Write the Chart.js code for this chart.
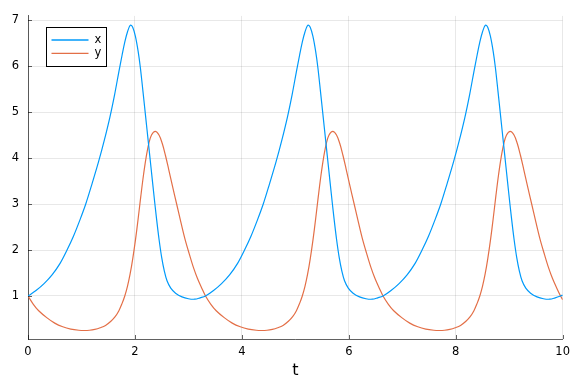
<!DOCTYPE html>
<html><head><meta charset="utf-8">
<script src="https://cdn.jsdelivr.net/npm/chart.js@4/dist/chart.umd.min.js"></script>
<style>html,body{margin:0;padding:0;background:#fff}#wrap{width:576px;height:384px}</style>
</head><body><div id="wrap"><canvas id="c" width="576" height="384"></canvas></div>
<script>
const seriesNames = ['x', 'y'];
const seriesColors = ['#009AFA', '#E36F47'];
const axisTitle = 't';
const xTicks = [0, 2, 4, 6, 8, 10];
const yTicks = [1, 2, 3, 4, 5, 6, 7];

const tX = [0.00,0.15,0.30,0.45,0.60,0.73,0.85,0.97,1.08,1.20,1.32,1.43,1.53,1.62,1.70,1.76,1.81,1.86,1.915,1.96,2.01,2.06,2.10,2.15,2.20,2.25,2.30,2.35,2.40,2.45,2.50,2.55,2.60,2.67,2.76,2.88,3.00,3.12,3.22,
  3.32,3.47,3.62,3.77,3.92,4.05,4.17,4.29,4.40,4.52,4.64,4.75,4.85,4.94,5.02,5.08,5.13,5.18,5.235,5.28,5.33,5.38,5.42,5.47,5.52,5.57,5.62,5.67,5.72,5.77,5.82,5.87,5.92,5.99,6.08,6.20,6.32,6.44,6.54,
  6.64,6.79,6.94,7.09,7.24,7.37,7.49,7.61,7.72,7.84,7.96,8.07,8.17,8.26,8.34,8.40,8.45,8.50,8.555,8.60,8.65,8.70,8.74,8.79,8.84,8.89,8.94,8.99,9.04,9.09,9.14,9.19,9.24,9.31,9.40,9.52,9.64,9.76,9.86,
  9.96,10.00];
const xVals = [1.00,1.12,1.27,1.46,1.71,2.00,2.30,2.65,3.00,3.45,3.92,4.40,4.88,5.38,5.88,6.24,6.52,6.74,6.89,6.84,6.64,6.32,5.98,5.45,4.90,4.35,3.80,3.25,2.72,2.24,1.84,1.54,1.33,1.17,1.06,0.98,0.94,0.93,0.96,
  1.00,1.12,1.27,1.46,1.71,2.00,2.30,2.65,3.00,3.45,3.92,4.40,4.88,5.38,5.88,6.24,6.52,6.74,6.89,6.84,6.64,6.32,5.98,5.45,4.90,4.35,3.80,3.25,2.72,2.24,1.84,1.54,1.33,1.17,1.06,0.98,0.94,0.93,0.96,
  1.00,1.12,1.27,1.46,1.71,2.00,2.30,2.65,3.00,3.45,3.92,4.40,4.88,5.38,5.88,6.24,6.52,6.74,6.89,6.84,6.64,6.32,5.98,5.45,4.90,4.35,3.80,3.25,2.72,2.24,1.84,1.54,1.33,1.17,1.06,0.98,0.94,0.93,0.96,
  1.00,1.02];

const tY = [0.00,0.10,0.20,0.35,0.50,0.65,0.80,0.95,1.05,1.15,1.25,1.35,1.45,1.55,1.63,1.70,1.76,1.81,1.86,1.91,1.96,2.01,2.06,2.11,2.16,2.21,2.26,2.31,2.38,2.45,2.51,2.57,2.63,2.70,2.78,2.86,2.94,3.02,3.10,3.17,3.25,
  3.32,3.42,3.52,3.67,3.82,3.97,4.12,4.27,4.37,4.47,4.57,4.67,4.77,4.87,4.95,5.02,5.08,5.13,5.18,5.23,5.28,5.33,5.38,5.43,5.48,5.53,5.58,5.63,5.70,5.77,5.83,5.89,5.95,6.02,6.10,6.18,6.26,6.34,6.42,6.49,6.57,
  6.64,6.74,6.84,6.99,7.14,7.29,7.44,7.59,7.69,7.79,7.89,7.99,8.09,8.19,8.27,8.34,8.40,8.45,8.50,8.55,8.60,8.65,8.70,8.75,8.80,8.85,8.90,8.95,9.02,9.09,9.15,9.21,9.27,9.34,9.42,9.50,9.58,9.66,9.74,9.81,9.89,
  9.96,10.00];
const yVals = [1.00,0.82,0.68,0.53,0.41,0.33,0.28,0.255,0.25,0.255,0.275,0.31,0.36,0.45,0.55,0.68,0.84,1.00,1.21,1.48,1.82,2.22,2.68,3.17,3.63,4.02,4.32,4.50,4.58,4.50,4.32,4.06,3.76,3.40,3.00,2.60,2.22,1.90,1.60,1.38,1.17,
  1.00,0.82,0.68,0.53,0.41,0.33,0.28,0.255,0.25,0.255,0.275,0.31,0.36,0.45,0.55,0.68,0.84,1.00,1.21,1.48,1.82,2.22,2.68,3.17,3.63,4.02,4.32,4.50,4.58,4.50,4.32,4.06,3.76,3.40,3.00,2.60,2.22,1.90,1.60,1.38,1.17,
  1.00,0.82,0.68,0.53,0.41,0.33,0.28,0.255,0.25,0.255,0.275,0.31,0.36,0.45,0.55,0.68,0.84,1.00,1.21,1.48,1.82,2.22,2.68,3.17,3.63,4.02,4.32,4.50,4.58,4.50,4.32,4.06,3.76,3.40,3.00,2.60,2.22,1.90,1.60,1.38,1.17,
  1.00,0.92];

const AXIS = 'rgba(0,0,0,0.62)';
const GRID = 'rgba(0,0,0,0.09)';
const FONT = 'DejaVu Sans';

const decor = {
  id: 'decor',
  afterDraw(chart) {
    const ctx = chart.ctx, a = chart.chartArea, xs = chart.scales.x, ys = chart.scales.y;
    ctx.save();
    ctx.strokeStyle = AXIS; ctx.lineWidth = 1;
    ctx.beginPath();
    xTicks.forEach(v => { const p = Math.round(xs.getPixelForValue(v)) + 0.5; ctx.moveTo(p, a.bottom); ctx.lineTo(p, a.bottom - 4); });
    yTicks.forEach(v => { const p = Math.round(ys.getPixelForValue(v)) + 0.5; ctx.moveTo(a.left, p); ctx.lineTo(a.left + 4, p); });
    ctx.stroke();
    const bx = Math.round(a.left + 18) + 0.5, by = Math.round(a.top + 11) + 0.5, bw = 60, bh = 39;
    ctx.fillStyle = '#fff';
    ctx.fillRect(bx, by, bw, bh);
    ctx.strokeStyle = '#000'; ctx.lineWidth = 1;
    ctx.strokeRect(bx, by, bw, bh);
    ctx.font = '11.5px "' + FONT + '"';
    ctx.textBaseline = 'middle'; ctx.textAlign = 'left';
    chart.data.datasets.forEach((ds, i) => {
      const yy = by + 12.5 + i * 13.3;
      ctx.strokeStyle = ds.borderColor; ctx.lineWidth = 1.3;
      ctx.beginPath(); ctx.moveTo(bx + 5, yy); ctx.lineTo(bx + 42, yy); ctx.stroke();
      ctx.fillStyle = '#000';
      ctx.fillText(ds.label, bx + 48, yy);
    });
    ctx.restore();
  }
};

new Chart(document.getElementById('c'), {
  type: 'line',
  data: {
    datasets: [
      { label: seriesNames[0], data: tX.map((t, i) => ({ x: t, y: xVals[i] })), borderColor: seriesColors[0], borderWidth: 1.2, pointRadius: 0, fill: false, tension: 0.35 },
      { label: seriesNames[1], data: tY.map((t, i) => ({ x: t, y: yVals[i] })), borderColor: seriesColors[1], borderWidth: 1.2, pointRadius: 0, fill: false, tension: 0.35 }
    ]
  },
  options: {
    responsive: false, animation: false, devicePixelRatio: 1,
    layout: { padding: { top: 12, right: 12, left: 0, bottom: 0 } },
    plugins: { legend: { display: false }, tooltip: { enabled: false } },
    scales: {
      x: {
        type: 'linear', min: 0, max: 10,
        afterBuildTicks: s => { s.ticks = xTicks.map(v => ({ value: v })); },
        afterFit: s => { s.height = 45; },
        grid: { color: GRID, drawTicks: false, lineWidth: 1 },
        border: { color: AXIS, width: 1 },
        ticks: { padding: 6, color: '#000', font: { family: FONT, size: 11.5 }, maxRotation: 0 },
        title: { display: true, text: axisTitle, color: '#000', font: { family: FONT, size: 16 }, padding: { top: 0, bottom: 4 } }
      },
      y: {
        type: 'linear', min: 0.065, max: 7.09,
        afterBuildTicks: s => { s.ticks = yTicks.map(v => ({ value: v })); },
        afterFit: s => { s.width = 28; },
        grid: { color: GRID, drawTicks: false, lineWidth: 1 },
        border: { color: AXIS, width: 1 },
        ticks: { padding: 9, color: '#000', font: { family: FONT, size: 11.5 } }
      }
    }
  },
  plugins: [decor]
});
</script>
</body></html>
